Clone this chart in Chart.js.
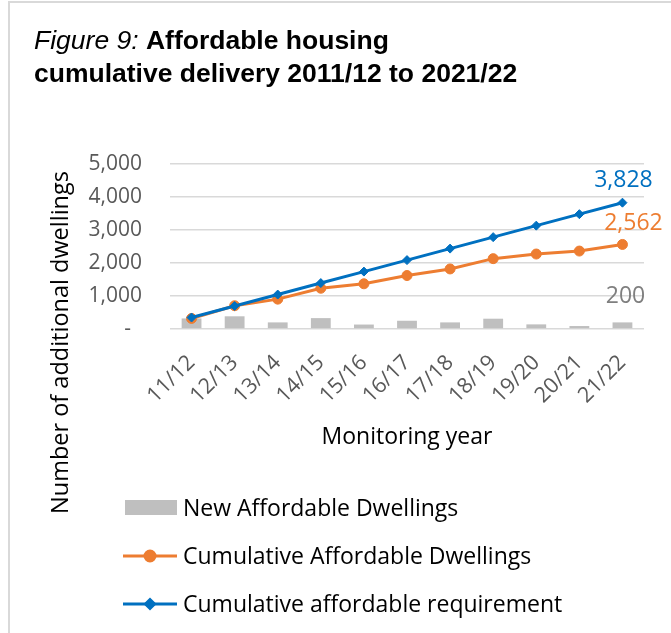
<!DOCTYPE html>
<html>
<head>
<meta charset="utf-8">
<script src="https://cdn.jsdelivr.net/npm/chart.js@4.4.1/dist/chart.umd.min.js"></script>
<style>
  html, body { margin: 0; padding: 0; background: #fff; }
  #wrap { position: relative; width: 671px; height: 633px; overflow: hidden; }
  #frame { position: absolute; left: 8px; top: 1px; width: 700px; height: 700px;
           border-top: 2px solid #d9d9d9; border-left: 2px solid #d9d9d9; }
  #title { position: absolute; left: 34px; top: 24px; color: #000;
           font-family: "Liberation Sans", Arial, sans-serif; font-size: 26.5px; line-height: 33px; }
  #title b { font-weight: bold; }
  #title i { font-weight: normal; }
  #chart { position: absolute; left: 0; top: 0; }
</style>
</head>
<body>
<div id="wrap">
  <div id="frame"></div>
  <canvas id="chart" width="671" height="633"></canvas>
  <div id="title"><i>Figure 9:</i> <b>Affordable housing</b><br><b>cumulative delivery 2011/12 to 2021/22</b></div>
</div>
<script>

const years = ["11/12", "12/13", "13/14", "14/15", "15/16", "16/17", "17/18", "18/19", "19/20", "20/21", "21/22"];

const newDwellings = [320, 385, 200, 330, 135, 250, 200, 312, 140, 90, 200];

const cumulativeDwellings = [320, 705, 905, 1235, 1370, 1620, 1820, 2132, 2272, 2362, 2562];

const cumulativeRequirement = [348, 696, 1044, 1392, 1740, 2088, 2436, 2784, 3132, 3480, 3828];

const yTicks = [0, 1000, 2000, 3000, 4000, 5000];

const COLORS = {
    bar: "#BFBFBF",
    dwellings: "#ED7D31",
    requirement: "#0070C0",
    grid: "#D9D9D9",
    tick: "#595959",
    barLabel: "#7F7F7F"
};

const FONT = "'Open Sans', sans-serif";

// labels on the last value of each series, offsets in px from the mark
const endLabels = [
    { dataset: 0, color: COLORS.barLabel, dx: 3, dy: -19 },
    { dataset: 1, color: COLORS.dwellings, dx: 11, dy: -14 },
    { dataset: 2, color: COLORS.requirement, dx: 1, dy: -15.5 }
];

const extras = {
    id: "extras",
    afterDatasetsDraw(chart) {
        const ctx = chart.ctx;
        ctx.save();
        ctx.font = "23px " + FONT;
        ctx.textAlign = "center";
        ctx.textBaseline = "alphabetic";
        endLabels.forEach(lbl => {
            const data = chart.data.datasets[lbl.dataset].data;
            const last = data.length - 1;
            const el = chart.getDatasetMeta(lbl.dataset).data[last];
            ctx.fillStyle = lbl.color;
            ctx.fillText(data[last].toLocaleString("en-GB"), el.x + lbl.dx, el.y + lbl.dy);
        });
        ctx.restore();
    },
    afterDraw(chart) {
        const ctx = chart.ctx;
        ctx.save();
        ctx.fillStyle = "#000";

        // axis titles
        ctx.textAlign = "center";
        ctx.textBaseline = "alphabetic";
        ctx.font = "23px " + FONT;
        ctx.fillText("Monitoring year", 407, 444);
        ctx.font = "23.5px " + FONT;
        ctx.translate(68, 342.5);
        ctx.rotate(-Math.PI / 2);
        ctx.fillText("Number of additional dwellings", 0, 0);
        ctx.setTransform(1, 0, 0, 1, 0, 0);

        // legend
        const rows = [507.5, 556, 604];
        ctx.font = "23px " + FONT;
        ctx.textAlign = "left";
        chart.data.datasets.forEach((ds, i) => {
            const y = rows[i];
            if (ds.type === "bar") {
                ctx.fillStyle = ds.backgroundColor;
                ctx.fillRect(125, y - 7.5, 52, 15);
            } else {
                ctx.strokeStyle = ds.borderColor;
                ctx.lineWidth = 3;
                ctx.beginPath();
                ctx.moveTo(123, y);
                ctx.lineTo(177, y);
                ctx.stroke();
                Chart.helpers.drawPoint(ctx, {
                    pointStyle: ds.pointStyle,
                    radius: ds.pointRadius,
                    borderWidth: 1
                }, 150, y);
                ctx.fillStyle = ds.borderColor;
                ctx.fill();
            }
            ctx.fillStyle = "#000";
            ctx.fillText(ds.label, 183, y + 8);
        });
        ctx.restore();
    }
};

new Chart(document.getElementById("chart"), {
    data: {
        labels: years,
        datasets: [
            {
                type: "bar",
                label: "New Affordable Dwellings",
                data: newDwellings,
                backgroundColor: COLORS.bar,
                barPercentage: 0.46,
                categoryPercentage: 1,
                order: 3
            },
            {
                type: "line",
                label: "Cumulative Affordable Dwellings",
                data: cumulativeDwellings,
                borderColor: COLORS.dwellings,
                backgroundColor: COLORS.dwellings,
                borderWidth: 3,
                pointStyle: "circle",
                pointRadius: 5,
                pointBorderWidth: 1,
                tension: 0,
                order: 2
            },
            {
                type: "line",
                label: "Cumulative affordable requirement",
                data: cumulativeRequirement,
                borderColor: COLORS.requirement,
                backgroundColor: COLORS.requirement,
                borderWidth: 3,
                pointStyle: "rectRot",
                pointRadius: 4.5,
                pointBorderWidth: 1,
                tension: 0,
                order: 1
            }
        ]
    },
    options: {
        responsive: false,
        animation: false,
        devicePixelRatio: 1,
        layout: {
            padding: { top: 164, right: 27, bottom: 0, left: 0 }
        },
        plugins: {
            legend: { display: false },
            tooltip: { enabled: false },
            title: { display: false }
        },
        scales: {
            x: {
                offset: true,
                grid: { display: false },
                border: { display: false },
                ticks: {
                    color: COLORS.tick,
                    font: { family: FONT, size: 21.5 },
                    minRotation: 45,
                    maxRotation: 45,
                    padding: 13
                },
                afterFit(scale) {
                    scale.height = 304;
                    scale.paddingLeft = 0;
                    scale.paddingRight = 0;
                }
            },
            y: {
                min: 0,
                max: 5000,
                afterBuildTicks(scale) {
                    scale.ticks = yTicks.map(v => ({ value: v }));
                },
                grid: {
                    color: COLORS.grid,
                    lineWidth: 1.6,
                    drawTicks: false
                },
                border: { display: false },
                ticks: {
                    color: COLORS.tick,
                    font: { family: FONT, size: 21 },
                    padding: 28,
                    callback: v => v === 0 ? "-  " : v.toLocaleString("en-GB")
                },
                afterFit(scale) {
                    scale.width = 170;
                    scale.paddingTop = 0;
                    scale.paddingBottom = 0;
                }
            }
        }
    },
    plugins: [extras]
});

</script>
</body>
</html>
